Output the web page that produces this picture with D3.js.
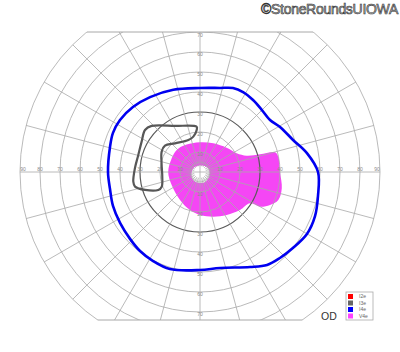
<!DOCTYPE html>
<html><head><meta charset="utf-8">
<script src="https://cdn.jsdelivr.net/npm/d3@7"></script>
<style>body{margin:0;background:#fff}svg{display:block}</style>
</head><body>
<svg id="c" width="400" height="352"></svg>
<script>
// ---- data ----
const ringDegrees = [10, 20, 30, 40, 50, 60, 70, 80, 90];
const horizontalLabels = ["10", "20", "30", "40", "50", "60", "70", "80", "90"];
const verticalLabels = ["10", "20", "30", "40", "50", "60", "70"];
const legendLabels = ["I2e", "I3e", "I4e", "V4e"];
const legendColors = ["#ff0000", "#666666", "#0000ff", "#ff44ff"];
const titleText = "\u00A9StoneRoundsUIOWA";
const eyeLabel = "OD";

// isopters: [angle (deg, counter-clockwise from right), eccentricity (deg)]
const isopterI4e = [[0,59],[10,54.3],[19,49.2],[29.4,45.9],[36.6,43.6],[45,43.8],[53.6,44.7],[61.7,45.4],[68.6,45.1],[76.6,43.2],[90,42],[108,43.2],[123.7,45],[135.9,46.7],[147,47.7],[155.8,47.7],[164.5,46.7],[180,46],[190.7,45.8],[201.3,46.7],[212.5,47.4],[223.7,48.4],[232.8,49.6],[242,50.3],[252.8,50.8],[270,49],[281.8,49],[297.8,53.7],[305.8,57.3],[312.9,58.7],[320.7,60],[329.9,61.8],[339,61.6],[348.5,60.2]];
const isopterI3e = [[94.2,22.7],[118.5,26.2],[136.4,33.4],[142.6,34.6],[152.5,32.9],[164.6,32],[176.7,32.6],[188.3,33.7],[192.7,33.3],[198.1,28.9],[203.3,22.7],[201,20.5],[187.1,19],[169.6,19.5],[152,21.7],[143.1,21.9],[131,19],[110,17],[100.7,18],[94.5,21.1]];
const isopterV4eOuter = [[0,40],[11.1,39.9],[14.7,38.8],[16.4,31.3],[19.2,24.7],[27,20.6],[42.3,18],[65.1,15.8],[90,14.9],[119,15.4],[136.6,16],[154.2,15.7],[180,15.9],[204.7,15.6],[234.5,17.2],[254.7,19.6],[270,21.5],[286.6,23.3],[301.8,25.3],[316.5,27.6],[327.9,29.5],[330,34.7],[334.8,38.7],[340.3,41.6],[348.7,41.7]];
const isopterV4eHole = [[26.6,4.5],[73,3.4],[143,3.75],[193,4.4],[229,5.3],[265,5.5],[302,5.6],[342,5]];

// ---- layout ----
const cx = 200, cy = 172;
const r = d3.scaleLinear().domain([0, 90]).range([0, 180]);
const clipTop = -140, clipBottom = 148;

const svg = d3.select("#c");
const defs = svg.append("defs");
defs.append("clipPath").attr("id", "gclip").append("rect")
  .attr("x", -200).attr("y", clipTop).attr("width", 400).attr("height", clipBottom - clipTop);

const g = svg.append("g").attr("transform", `translate(${cx},${cy})`);

const rad = a => a * Math.PI / 180;
const radial = d3.lineRadial()
  .angle(d => rad(90 - d[0]))
  .radius(d => r(d[1]))
  .curve(d3.curveCatmullRomClosed.alpha(0.5));

// V4e fill (with central hole)
g.append("path")
  .attr("d", radial(isopterV4eOuter) + radial(isopterV4eHole))
  .attr("fill", "#f546f5")
  .attr("fill-rule", "evenodd");

// grid
const grid = g.append("g").attr("clip-path", "url(#gclip)");
const gridColor = "#a8a8a8";
grid.selectAll("circle.ring").data([5].concat(ringDegrees)).join("circle")
  .attr("r", d => r(d)).attr("fill", "none")
  .attr("stroke", d => d === 30 ? "#5a5a5a" : gridColor)
  .attr("stroke-width", d => d === 30 ? 1.2 : (d === 5 ? 0.6 : 0.8));
const spokeAngles = d3.range(0, 360, 15);
grid.selectAll("line.spoke").data(spokeAngles).join("line")
  .attr("x1", d => d % 90 === 0 ? 0 : r(3) * Math.cos(rad(d)))
  .attr("y1", d => d % 90 === 0 ? 0 : -r(3) * Math.sin(rad(d)))
  .attr("x2", d => r(90) * Math.cos(rad(d)))
  .attr("y2", d => -r(90) * Math.sin(rad(d)))
  .attr("stroke", gridColor).attr("stroke-width", 0.8);
const fineAngles = d3.range(0, 360, 7.5).filter(a => a % 15 !== 0);
grid.selectAll("line.fine").data(fineAngles).join("line")
  .attr("x1", d => r(4) * Math.cos(rad(d)))
  .attr("y1", d => -r(4) * Math.sin(rad(d)))
  .attr("x2", d => r(10) * Math.cos(rad(d)))
  .attr("y2", d => -r(10) * Math.sin(rad(d)))
  .attr("stroke", gridColor).attr("stroke-width", 0.5);
// chord lines at clip edges
[clipTop, clipBottom].forEach(y => {
  const half = Math.sqrt(r(90) * r(90) - y * y);
  g.append("line").attr("x1", -half).attr("x2", half).attr("y1", y).attr("y2", y)
    .attr("stroke", gridColor).attr("stroke-width", 1);
});

// axis labels
const lab = g.append("g").attr("font-family", "Liberation Sans, Arial, sans-serif")
  .attr("font-size", 5).attr("fill", "#8a8a8a").attr("text-anchor", "middle");
horizontalLabels.forEach((t, i) => {
  const d = ringDegrees[i];
  [-1, 1].forEach(s => lab.append("text").attr("x", s * r(d) + (d === 90 ? -s * 3 : 0)).attr("y", -1).text(t));
});
verticalLabels.forEach((t, i) => {
  const d = ringDegrees[i];
  lab.append("text").attr("x", 0).attr("y", Math.max(-r(d) + 4, clipTop + 5)).text(t);
  lab.append("text").attr("x", 0).attr("y", r(d) + 4).text(t);
});

// I3e isopter
g.append("path").attr("d", radial(isopterI3e))
  .attr("fill", "none").attr("stroke", "#575757").attr("stroke-width", 2.2)
  .attr("stroke-linejoin", "round");
// I4e isopter
g.append("path").attr("d", radial(isopterI4e))
  .attr("fill", "none").attr("stroke", "#0000f0").attr("stroke-width", 2.6)
  .attr("stroke-linejoin", "round");

// title
svg.append("text").attr("x", 398).attr("y", 14).attr("text-anchor", "end")
  .attr("font-family", "Liberation Sans, Arial, sans-serif").attr("font-size", 14)
  .attr("letter-spacing", -0.3)
  .attr("fill", "#bdbdbd").attr("stroke", "#333").attr("stroke-width", 0.6)
  .text(titleText);

// eye label
svg.append("text").attr("x", 321).attr("y", 320)
  .attr("font-family", "Liberation Sans, Arial, sans-serif").attr("font-size", 10.5)
  .attr("fill", "#333").text(eyeLabel);

// legend
const lg = svg.append("g").attr("transform", "translate(346,292)");
lg.append("rect").attr("width", 27).attr("height", 28).attr("fill", "#fff")
  .attr("stroke", "#aaa").attr("stroke-width", 0.8);
const ly = d3.scaleBand().domain(legendLabels).range([1, 27]);
legendLabels.forEach((t, i) => {
  lg.append("rect").attr("x", 2).attr("y", ly(t) + 1).attr("width", 5).attr("height", 5).attr("fill", legendColors[i]);
  lg.append("text").attr("x", 13).attr("y", ly(t) + 5.2)
    .attr("font-family", "Liberation Sans, Arial, sans-serif").attr("font-size", 5)
    .attr("fill", "#666").text(t);
});
</script>
</body></html>
